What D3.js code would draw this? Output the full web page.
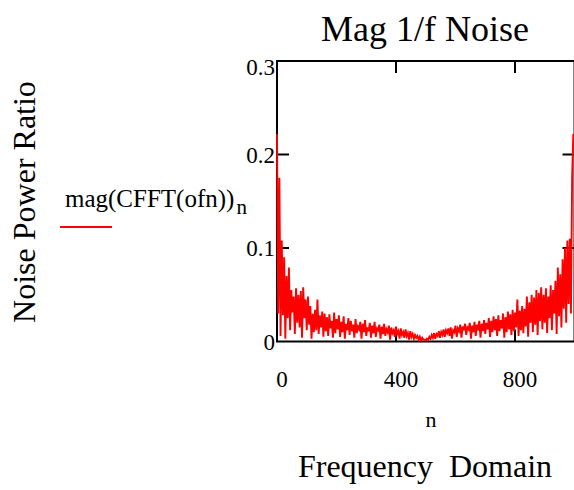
<!DOCTYPE html>
<html>
<head>
<meta charset="utf-8">
<script src="https://cdn.jsdelivr.net/npm/d3@7"></script>
<style>
  body { margin: 0; background: #fff; }
  svg { display: block; }
  text { font-family: "Liberation Serif", "Times New Roman", serif; }
</style>
</head>
<body>
<svg width="574" height="490"></svg>
<script>
// sample spacing in n
var step = 4;

// mag(CFFT(ofn))_n, one reading every 4th n from 0 to 996
var magValues = [
    .222,.030,.175,.006,.108,.028,.090,.003,.070,.025,
    .079,.012,.055,.031,.048,.008,.057,.020,.050,.015,
    .054,.004,.058,.025,.045,.012,.048,.018,.038,.003,
    .030,.010,.034,.012,.045,.008,.028,.015,.032,.005,
    .030,.011,.026,.006,.029,.014,.022,.004,.031,.009,
    .024,.013,.028,.005,.021,.010,.027,.003,.019,.012,
    .025,.007,.022,.011,.018,.004,.024,.009,.016,.013,
    .021,.003,.019,.010,.023,.006,.015,.011,.020,.004,
    .017,.009,.021,.005,.014,.012,.018,.003,.016,.008,
    .019,.006,.013,.010,.017,.002,.015,.009,.012,.005,
    .016,.008,.011,.003,.014,.007,.010,.004,.013,.006,
    .009,.002,.011,.005,.008,.003,.007,.004,.006,.002,
    .005,.001,.004,.002,.002,
    .001,.003,.002,.005,.003,.007,.004,.009,.003,.008,
    .006,.011,.004,.010,.007,.013,.005,.012,.009,.014,
    .006,.015,.003,.012,.010,.017,.005,.014,.011,.018,
    .004,.016,.012,.019,.007,.015,.013,.020,.003,.017,
    .010,.021,.006,.018,.012,.022,.004,.019,.011,.023,
    .008,.020,.013,.025,.005,.022,.010,.027,.012,.024,
    .006,.028,.011,.023,.014,.030,.004,.026,.010,.032,
    .013,.029,.007,.034,.011,.031,.015,.045,.006,.033,
    .012,.038,.009,.035,.016,.048,.005,.042,.020,.050,
    .010,.047,.018,.055,.007,.052,.022,.058,.013,.050,
    .020,.057,.009,.048,.025,.060,.012,.055,.030,.065,
    .008,.079,.027,.072,.015,.088,.035,.100,.020,.108,
    .040,.110,.030,.175,.222
];

var xTicks = [0, 400, 800];
var yTicks = [0, 0.1, 0.2, 0.3];
var xInnerTicks = [400, 800];
var yInnerTicks = [0.1, 0.2];

function drawPlot () {
    var svg = d3.select("svg");

    var x = d3.scaleLinear()
        .domain([0, 1000])
        .range([277, 574.5]);

    var y = d3.scaleLinear()
        .domain([0, 0.3])
        .range([341.5, 61]);

    var data = magValues.map(function(v, i) { return {n: i * step, v: v}; });

    var line = d3.line()
        .x(function(d) { return x(d.n); })
        .y(function(d) { return y(d.v); });

    // frame
    svg.append("rect")
        .attr("x", x(0))
        .attr("y", y(0.3))
        .attr("width", x(1000) - x(0))
        .attr("height", y(0) - y(0.3))
        .attr("fill", "none")
        .attr("stroke", "#000")
        .attr("stroke-width", 2);

    // inward ticks on all four sides
    var tickLen = 12;
    var t = svg.append("g").attr("stroke", "#000").attr("stroke-width", 2);
    xInnerTicks.forEach(function(d) {
        t.append("line").attr("x1", x(d)).attr("x2", x(d)).attr("y1", y(0.3)).attr("y2", y(0.3) + tickLen);
        t.append("line").attr("x1", x(d)).attr("x2", x(d)).attr("y1", y(0)).attr("y2", y(0) - tickLen);
    });
    yInnerTicks.forEach(function(d) {
        t.append("line").attr("x1", x(0)).attr("x2", x(0) + tickLen).attr("y1", y(d)).attr("y2", y(d));
        t.append("line").attr("x1", x(1000)).attr("x2", x(1000) - tickLen).attr("y1", y(d)).attr("y2", y(d));
    });

    svg.append("path")
        .datum(data)
        .attr("fill", "none")
        .attr("stroke", "#ff0000")
        .attr("stroke-width", 1.9)
        .attr("stroke-linejoin", "miter")
        .attr("d", line);

    // tick labels
    svg.selectAll(".ylab")
        .data(yTicks)
        .enter().append("text")
            .attr("class", "ylab")
            .attr("x", x(0) - 2)
            .attr("y", function(d) { return Math.max(y(d), 67); })
            .attr("dy", "0.35em")
            .attr("text-anchor", "end")
            .style("font-size", "23px")
            .text(function(d) { return d === 0 ? "0" : d3.format(".1f")(d); });

    svg.selectAll(".xlab")
        .data(xTicks)
        .enter().append("text")
            .attr("class", "xlab")
            .attr("x", function(d) { return x(d) + 5; })
            .attr("y", 387)
            .attr("text-anchor", "middle")
            .style("font-size", "23px")
            .text(function(d) { return d; });

    // titles
    svg.append("text")
        .attr("x", 425)
        .attr("y", 41)
        .attr("text-anchor", "middle")
        .style("font-size", "36px")
        .text("Mag 1/f Noise");

    svg.append("text")
        .attr("x", 431)
        .attr("y", 427)
        .attr("text-anchor", "middle")
        .style("font-size", "22px")
        .text("n");

    svg.append("text")
        .attr("x", 425)
        .attr("y", 477)
        .attr("text-anchor", "middle")
        .style("font-size", "32px")
        .attr("xml:space", "preserve")
        .style("white-space", "pre")
        .text("Frequency  Domain");

    svg.append("text")
        .attr("transform", "translate(35,202) rotate(-90)")
        .attr("text-anchor", "middle")
        .style("font-size", "32px")
        .text("Noise Power Ratio");

    // legend
    var leg = svg.append("text")
        .attr("x", 65)
        .attr("y", 207)
        .style("font-size", "25px");
    leg.append("tspan").text("mag(CFFT(ofn))");
    leg.append("tspan").attr("dx", 2).attr("dy", 7).style("font-size", "21px").text("n");

    svg.append("line")
        .attr("x1", 60).attr("x2", 112)
        .attr("y1", 227).attr("y2", 227)
        .attr("stroke", "#ff0000")
        .attr("stroke-width", 2);
}

drawPlot();
</script>
</body>
</html>
